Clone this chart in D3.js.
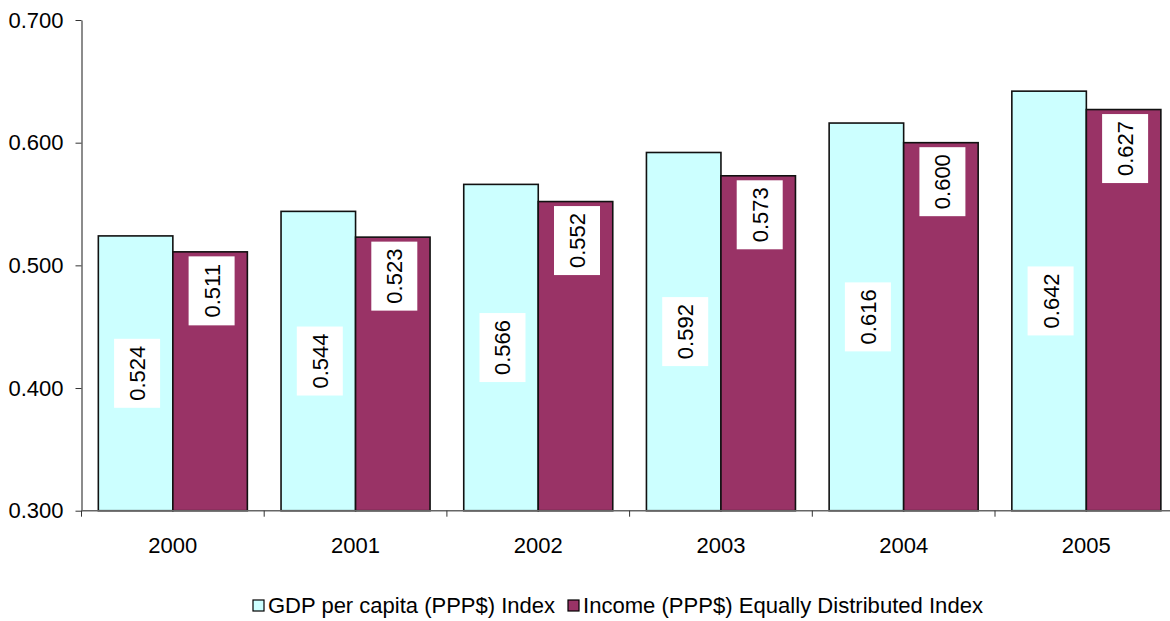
<!DOCTYPE html>
<html>
<head>
<meta charset="utf-8">
<script src="https://cdn.jsdelivr.net/npm/d3@7"></script>
<style>
  body { margin: 0; background: #fff; }
  svg { display: block; font-family: "Liberation Sans", Arial, sans-serif; }
</style>
</head>
<body>
<div id="chart-area"></div>
<script>
var years = ["2000", "2001", "2002", "2003", "2004", "2005"];
var seriesNames = ["GDP per capita (PPP$) Index", "Income (PPP$) Equally Distributed Index"];
var gdpIndex = [0.524, 0.544, 0.566, 0.592, 0.616, 0.642];
var incomeIndex = [0.511, 0.523, 0.552, 0.573, 0.600, 0.627];
var yTicks = [0.3, 0.4, 0.5, 0.6, 0.7];

var width = 1170, height = 621;
var colors = ["#ccffff", "#993366"];

var svg = d3.select("#chart-area").append("svg")
    .attr("width", width)
    .attr("height", height);

var x = d3.scaleBand()
    .domain(years)
    .range([81.5, 81.5 + 6 * 182.7]);

var x1 = d3.scaleBand()
    .domain([0, 1])
    .range([0, x.bandwidth()])
    .paddingOuter(0.226);

var y = d3.scaleLinear()
    .domain([0.3, 0.7])
    .range([510.7, 20]);

// y axis
var yAxis = svg.append("g")
    .attr("transform", "translate(81.5,0)")
    .call(d3.axisLeft(y).tickValues(yTicks).tickSize(6).tickSizeOuter(0).tickFormat(d3.format(".3f")));
yAxis.select(".domain").attr("stroke", "#666").attr("stroke-width", 1.5);
yAxis.selectAll(".tick line").attr("stroke", "#333");
yAxis.selectAll(".tick text")
    .attr("x", -18)
    .attr("font-size", 22)
    .attr("fill", "#000")
    .style("font-family", "Liberation Sans, Arial, sans-serif");

// bars
var rows = years.map(function(d, i) {
    return {year: d, values: [gdpIndex[i], incomeIndex[i]]};
});

var groups = svg.selectAll("g.year")
    .data(rows)
    .enter().append("g")
    .attr("class", "year")
    .attr("transform", function(d) { return "translate(" + x(d.year) + ",0)"; });

groups.selectAll("rect.bar")
    .data(function(d) { return d.values.map(function(v, k) { return {k: k, v: v}; }); })
    .enter().append("rect")
    .attr("class", "bar")
    .attr("x", function(d) { return x1(d.k); })
    .attr("y", function(d) { return y(d.v); })
    .attr("width", x1.bandwidth())
    .attr("height", function(d) { return y(0.3) - y(d.v); })
    .attr("fill", function(d) { return colors[d.k]; })
    .attr("stroke", "#111")
    .attr("stroke-width", 1.6);

// value labels: GDP centered, Income inside end
var boxW = 46, boxH = 69;
var labels = groups.selectAll("g.lab")
    .data(function(d) { return d.values.map(function(v, k) { return {k: k, v: v}; }); })
    .enter().append("g")
    .attr("class", "lab")
    .attr("transform", function(d) {
        var cx = x1(d.k) + x1.bandwidth() / 2 + 1.5;
        var cy = d.k == 0 ? (y(d.v) + y(0.3)) / 2 : y(d.v) + 4.5 + boxH / 2;
        return "translate(" + cx + "," + cy + ")";
    });

labels.append("rect")
    .attr("x", -boxW / 2)
    .attr("y", -boxH / 2)
    .attr("width", boxW)
    .attr("height", boxH)
    .attr("fill", "#fff");

labels.append("text")
    .attr("transform", "rotate(-90)")
    .attr("text-anchor", "middle")
    .attr("dy", "0.36em")
    .attr("font-size", 22)
    .text(function(d) { return d3.format(".3f")(d.v); });

// x axis
svg.append("line")
    .attr("x1", 81.5).attr("x2", width)
    .attr("y1", y(0.3)).attr("y2", y(0.3))
    .attr("stroke", "#666").attr("stroke-width", 1.5);

svg.selectAll("line.xtick")
    .data(years)
    .enter().append("line")
    .attr("class", "xtick")
    .attr("x1", function(d) { return x(d); })
    .attr("x2", function(d) { return x(d); })
    .attr("y1", y(0.3))
    .attr("y2", y(0.3) + 6)
    .attr("stroke", "#333");

svg.selectAll("text.xlab")
    .data(years)
    .enter().append("text")
    .attr("class", "xlab")
    .attr("x", function(d) { return x(d) + x.bandwidth() / 2; })
    .attr("y", 553)
    .attr("text-anchor", "middle")
    .attr("font-size", 22)
    .text(function(d) { return d; });

// legend
var legend = svg.append("g");
var lx = 253, ly = 606;
var textWidths = [287, 400];
var offs = [0, 315];
seriesNames.forEach(function(name, i) {
    legend.append("rect")
        .attr("x", lx + offs[i])
        .attr("y", ly - 6)
        .attr("width", 11)
        .attr("height", 11)
        .attr("fill", colors[i])
        .attr("stroke", "#000")
        .attr("stroke-width", 1.2);
    legend.append("text")
        .attr("x", lx + offs[i] + 15)
        .attr("y", ly + 7)
        .attr("font-size", 22)
        .attr("textLength", textWidths[i])
        .attr("lengthAdjust", "spacingAndGlyphs")
        .text(name);
});
</script>
</body>
</html>
